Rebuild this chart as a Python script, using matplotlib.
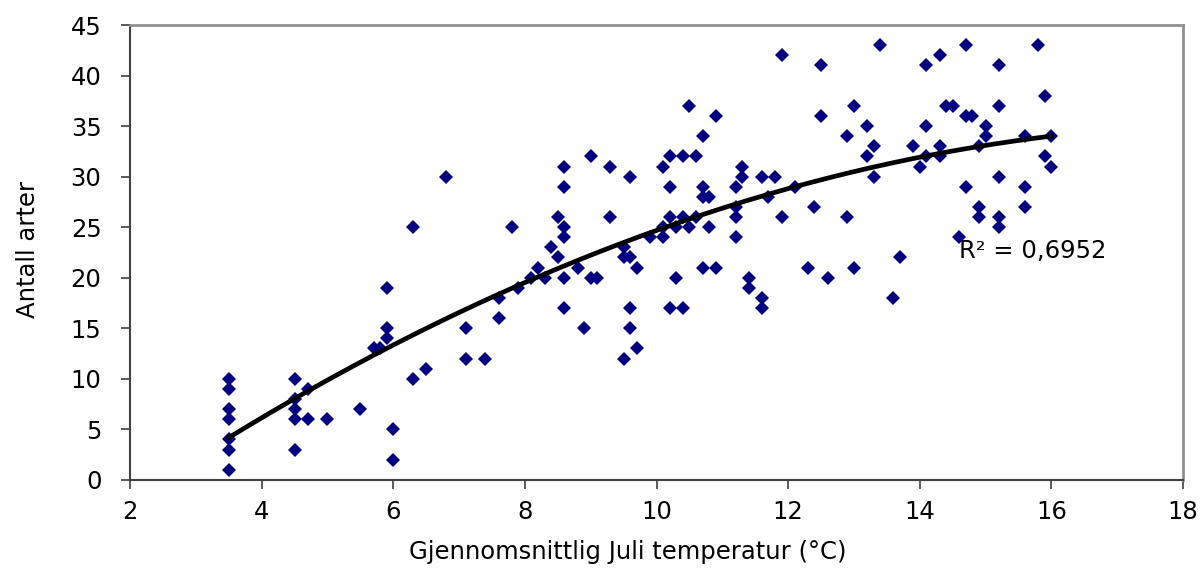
import numpy as np
import matplotlib
matplotlib.use("Agg")
import matplotlib.pyplot as plt

# reference text looks like Arial stretched wide; DejaVu Sans gets the widths closer
plt.rcParams['font.family'] = ['DejaVu Sans']

# (temperature, species count)
temp = [3.5, 3.5, 3.5, 3.5, 3.5, 3.5, 3.5,
        4.5, 4.5, 4.5, 4.5, 4.5, 4.7, 4.7, 5.0, 5.5, 5.7, 5.8,
        5.9, 5.9, 5.9, 6.0, 6.0, 6.3, 6.3, 6.5, 6.8, 7.1, 7.1, 7.4,
        7.6, 7.6, 7.8, 7.9, 8.1, 8.2, 8.3, 8.4, 8.5, 8.5,
        8.6, 8.6, 8.6, 8.6, 8.6, 8.6, 8.8, 8.9, 9.0, 9.0, 9.1,
        9.3, 9.3, 9.5, 9.5, 9.5, 9.6, 9.6, 9.6, 9.6, 9.7, 9.7, 9.9,
        10.1, 10.1, 10.1, 10.2, 10.2, 10.2, 10.2, 10.3, 10.3,
        10.4, 10.4, 10.4, 10.5, 10.5, 10.6, 10.6,
        10.7, 10.7, 10.7, 10.7, 10.8, 10.8, 10.9, 10.9,
        11.2, 11.2, 11.2, 11.2, 11.3, 11.3, 11.4, 11.4,
        11.6, 11.6, 11.6, 11.7, 11.8, 11.9, 11.9, 12.1, 12.3, 12.4,
        12.5, 12.5, 12.6, 12.9, 12.9, 13.0, 13.0, 13.2, 13.2, 13.3, 13.3,
        13.4, 13.6, 13.7, 13.9, 14.0, 14.1, 14.1, 14.1, 14.3, 14.3, 14.3,
        14.4, 14.5, 14.6, 14.7, 14.7, 14.7, 14.8, 14.9, 14.9, 14.9,
        15.0, 15.0, 15.2, 15.2, 15.2, 15.2, 15.2, 15.6, 15.6, 15.6,
        15.8, 15.9, 15.9, 16.0, 16.0]
arter = [10, 9, 7, 6, 4, 3, 1,
         10, 8, 7, 6, 3, 9, 6, 6, 7, 13, 13,
         19, 15, 14, 5, 2, 25, 10, 11, 30, 15, 12, 12,
         18, 16, 25, 19, 20, 21, 20, 23, 26, 22,
         31, 29, 25, 24, 20, 17, 21, 15, 32, 20, 20,
         31, 26, 23, 22, 12, 30, 22, 17, 15, 21, 13, 24,
         31, 25, 24, 32, 29, 26, 17, 25, 20,
         32, 26, 17, 37, 25, 32, 26,
         34, 29, 28, 21, 28, 25, 36, 21,
         29, 27, 26, 24, 31, 30, 20, 19,
         30, 18, 17, 28, 30, 42, 26, 29, 21, 27,
         41, 36, 20, 34, 26, 37, 21, 35, 32, 33, 30,
         43, 18, 22, 33, 31, 41, 35, 32, 42, 33, 32,
         37, 37, 24, 43, 36, 29, 36, 33, 27, 26,
         35, 34, 41, 37, 30, 26, 25, 34, 29, 27,
         43, 38, 32, 34, 31]

r2_label = "R² = 0,6952"

x = np.array(temp)
y = np.array(arter)
coef = np.polyfit(x, y, 2)   # 2nd order trendline like the excel one
xs = np.linspace(x.min(), x.max(), 200)

fig = plt.figure(figsize=(12.04, 5.74), dpi=100)
ax = fig.add_axes([0.108, 0.164, 0.8746, 0.7924])

ax.plot(x, y, 'D', color='#000080', markersize=6.8, markeredgewidth=0, zorder=3)
ax.plot(xs, np.polyval(coef, xs), color='black', linewidth=3.4, zorder=4)

ax.set_xlim(2, 18)
ax.set_ylim(0, 45)
ax.set_xticks(range(2, 19, 2))
ax.set_yticks(range(0, 46, 5))
ax.tick_params(labelsize=17.5, direction='out', length=6.5, width=1.2, color='#404040')
ax.tick_params(axis='y', pad=14)
ax.tick_params(axis='x', pad=8)

for s in ['left', 'bottom']:
    ax.spines[s].set_color('#404040')
    ax.spines[s].set_linewidth(1.5)
for s in ['top', 'right']:
    ax.spines[s].set_color('#909090')
    ax.spines[s].set_linewidth(2)

fig.text(628 / 1204, 1 - 552 / 574, "Gjennomsnittlig Juli temperatur (°C)",
         fontsize=17.5, ha='center', va='center')
fig.text(28 / 1204, 1 - 250 / 574, "Antall arter", fontsize=17.5,
         rotation=90, ha='center', va='center')
ax.text(14.6, 22.6, r2_label, fontsize=17.5, va='center', ha='left')

fig.savefig("out.png", dpi=100)
